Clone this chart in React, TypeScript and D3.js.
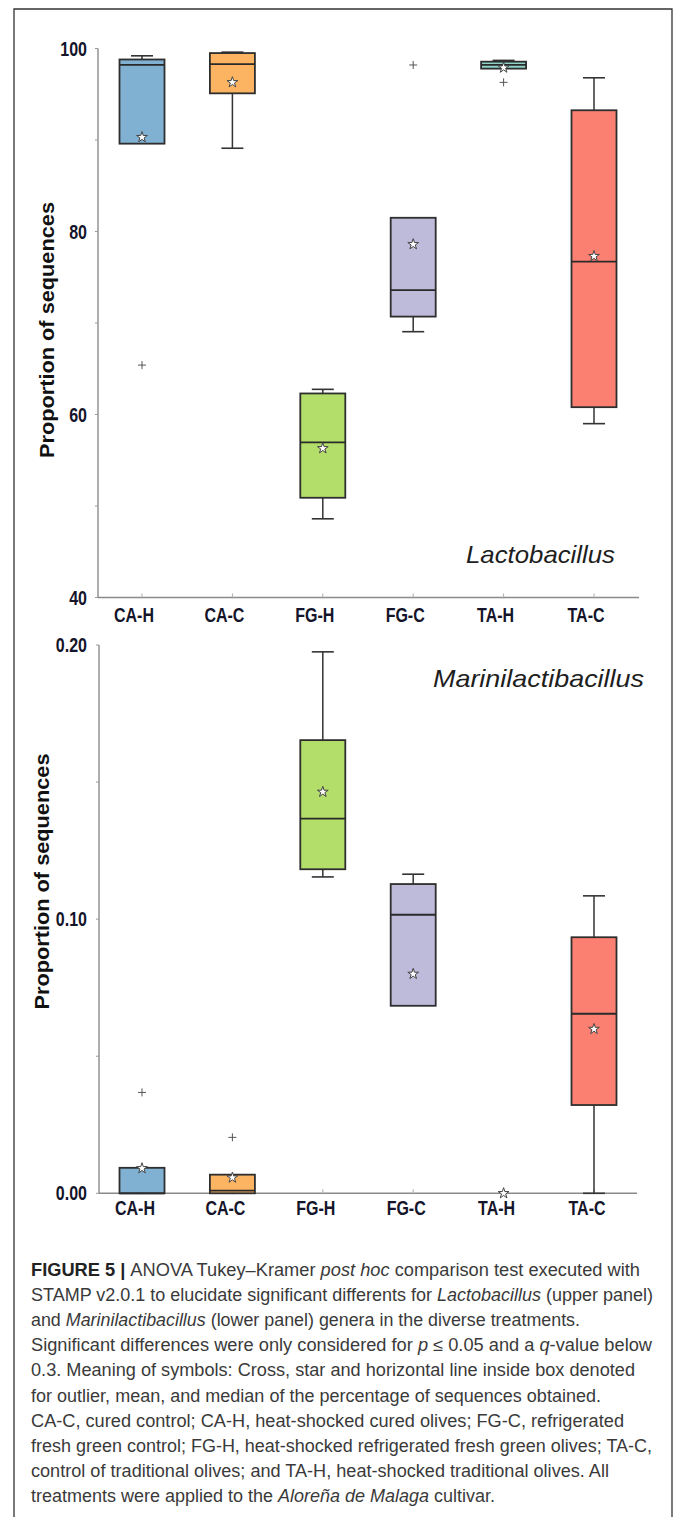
import React from "react";
import * as d3 from "d3";

const categories = ["CA-H", "CA-C", "FG-H", "FG-C", "TA-H", "TA-C"];
const boxColors = ["#80B1D3", "#FDB462", "#B3DE69", "#BEBADA", "#8DD3C7", "#FB8072"];

// Lactobacillus (upper panel), percentage of sequences
const lactoWhiskerLow = [89.6, 89.1, 48.6, 69.05, 97.8, 59.0];
const lactoQ1 = [89.6, 95.1, 50.9, 70.7, 97.8, 60.8];
const lactoMedian = [98.2, 98.3, 56.96, 73.6, 98.2, 76.7];
const lactoQ3 = [98.8, 99.5, 62.3, 81.5, 98.56, 93.25];
const lactoWhiskerHigh = [99.2, 99.6, 62.75, 81.5, 98.7, 96.8];
const lactoMean = [90.3, 96.3, 56.3, 78.6, 97.9, 77.3];
const lactoOutliers = [[65.4], [], [], [98.2], [96.3], []];
const lactoTicks = [40, 50, 60, 70, 80, 90, 100];
const lactoTickLabels = ["40", "", "60", "", "80", "", "100"];

// Marinilactibacillus (lower panel)
const mariWhiskerLow = [0, 0, 0.1154, 0.0684, 0, 0];
const mariQ1 = [0, 0, 0.1182, 0.0684, 0, 0.0322];
const mariMedian = [0, 0.001, 0.1367, 0.1016, 0, 0.0655];
const mariQ3 = [0.0093, 0.0068, 0.1653, 0.1128, 0, 0.0934];
const mariWhiskerHigh = [0.0093, 0.0068, 0.1975, 0.1164, 0, 0.1085];
const mariMean = [0.0091, 0.0057, 0.1464, 0.08, 0, 0.0599];
const mariOutliers = [[0.0368], [0.0204], [], [], [], []];
const mariTicks = [0, 0.05, 0.1, 0.15, 0.2];
const mariTickLabels = ["0.00", "", "0.10", "", "0.20"];

type Seg = [string, string?];
const captionLines: { segs: Seg[]; w: number }[] = [
  { segs: [["FIGURE 5 | ", "b"], ["ANOVA Tukey–Kramer "], ["post hoc", "i"], [" comparison test executed with"]], w: 609 },
  { segs: [["STAMP v2.0.1 to elucidate significant differents for "], ["Lactobacillus", "i"], [" (upper panel)"]], w: 622 },
  { segs: [["and "], ["Marinilactibacillus", "i"], [" (lower panel) genera in the diverse treatments."]], w: 549 },
  { segs: [["Significant differences were only considered for "], ["p", "i"], [" ≤ 0.05 and a "], ["q", "i"], ["-value below"]], w: 621 },
  { segs: [["0.3. Meaning of symbols: Cross, star and horizontal line inside box denoted"]], w: 604 },
  { segs: [["for outlier, mean, and median of the percentage of sequences obtained."]], w: 570 },
  { segs: [["CA-C, cured control; CA-H, heat-shocked cured olives; FG-C, refrigerated"]], w: 593 },
  { segs: [["fresh green control; FG-H, heat-shocked refrigerated fresh green olives; TA-C,"]], w: 621 },
  { segs: [["control of traditional olives; and TA-H, heat-shocked traditional olives. All"]], w: 578 },
  { segs: [["treatments were applied to the "], ["Aloreña de Malaga", "i"], [" cultivar."]], w: 464 },
];

const W = 674;
const H = 1517;
const BOX_W = 45;
const CAP_W = 22;
const NARROW = 0.8;

const x = d3.scalePoint<string>().domain(categories).range([142, 594]);
const starPath = d3.symbol().type(d3.symbolStar).size(36)() as string;
const sans = "'Liberation Sans', Arial, sans-serif";

function NarrowText(props: { x: number; y: number; anchor: string; size: number; children: string }) {
  return (
    <g transform={`translate(${props.x},${props.y}) scale(${NARROW},1)`}>
      <text x={0} y={0} textAnchor={props.anchor} fontFamily={sans} fontWeight="bold" fontSize={props.size} fill="#14142a">
        {props.children}
      </text>
    </g>
  );
}

function Panel(props: {
  y: d3.ScaleLinear<number, number>;
  wl: number[]; q1: number[]; med: number[]; q3: number[]; wh: number[]; mean: number[]; out: number[][];
  ticks: number[]; tickLabels: string[];
  axisX0: number; axisX1: number; labelBaseline: number; labelDx: number;
  genus: string; genusX: number; genusY: number; genusW: number;
  titleX: number; titleY: number;
}) {
  const { y } = props;
  const y0 = y.range()[0];
  const y1 = y.range()[1];
  return (
    <g>
      <line x1={props.axisX0} x2={props.axisX0} y1={y1} y2={y0} stroke="#8a8a8a" strokeWidth={1.4} />
      {props.ticks.map((t, i) => (
        <g key={"t" + i}>
          <line x1={props.axisX0 - 3} x2={props.axisX0} y1={y(t)} y2={y(t)} stroke="#9a9a9a" strokeWidth={1} />
          {props.tickLabels[i] && (
            <NarrowText x={87} y={y(t) + 7} anchor="end" size={20}>
              {props.tickLabels[i]}
            </NarrowText>
          )}
        </g>
      ))}
      <line x1={props.axisX0} x2={props.axisX1} y1={y0} y2={y0} stroke="#8a8a8a" strokeWidth={1.4} />
      {categories.map((c) => (
        <line key={"xt" + c} x1={x(c)} x2={x(c)} y1={y0 - 4} y2={y0 + 1} stroke="#aaa" strokeWidth={1} />
      ))}
      {categories.map((c) => (
        <NarrowText key={"xl" + c} x={(x(c) as number) + props.labelDx} y={props.labelBaseline} anchor="middle" size={20}>
          {c}
        </NarrowText>
      ))}
      {categories.map((c, i) => {
        const cx = x(c) as number;
        const top = y(props.q3[i]);
        const bot = y(props.q1[i]);
        const hasBox = bot - top > 0.5;
        return (
          <g key={"b" + c}>
            <line x1={cx} x2={cx} y1={y(props.wh[i])} y2={top} stroke="#333" strokeWidth={1.5} />
            <line x1={cx} x2={cx} y1={bot} y2={y(props.wl[i])} stroke="#333" strokeWidth={1.5} />
            {props.wh[i] > props.q3[i] && (
              <line x1={cx - CAP_W / 2} x2={cx + CAP_W / 2} y1={y(props.wh[i])} y2={y(props.wh[i])} stroke="#333" strokeWidth={1.6} />
            )}
            {props.wl[i] < props.q1[i] && (
              <line x1={cx - CAP_W / 2} x2={cx + CAP_W / 2} y1={y(props.wl[i])} y2={y(props.wl[i])} stroke="#333" strokeWidth={1.6} />
            )}
            {hasBox && (
              <rect x={cx - BOX_W / 2} y={top} width={BOX_W} height={bot - top} fill={boxColors[i]} stroke="#2e2e2e" strokeWidth={1.8} />
            )}
            {hasBox && (
              <line x1={cx - BOX_W / 2} x2={cx + BOX_W / 2} y1={y(props.med[i])} y2={y(props.med[i])} stroke="#2a2a2a" strokeWidth={1.8} />
            )}
            <path d={starPath} transform={`translate(${cx},${y(props.mean[i])})`} fill="#fff" stroke="#444" strokeWidth={1} />
            {props.out[i].map((o, k) => (
              <g key={"o" + k} transform={`translate(${cx},${y(o)})`} stroke="#555" strokeWidth={1}>
                <line x1={-4} x2={4} y1={0} y2={0} />
                <line x1={0} x2={0} y1={-4} y2={4} />
              </g>
            ))}
          </g>
        );
      })}
      <text x={props.genusX} y={props.genusY} fontFamily={sans} fontStyle="italic" fontSize={24} fill="#1e1e1e" textLength={props.genusW} lengthAdjust="spacingAndGlyphs">
        {props.genus}
      </text>
      <text transform={`translate(${props.titleX},${props.titleY}) rotate(-90)`} textAnchor="middle" fontFamily={sans} fontWeight="bold" fontSize={21} fill="#111" textLength={256} lengthAdjust="spacingAndGlyphs">
        Proportion of sequences
      </text>
    </g>
  );
}

export default function App() {
  const yTop = d3.scaleLinear().domain([40, 100]).range([597.5, 48.5]);
  const yBot = d3.scaleLinear().domain([0, 0.2]).range([1193.3, 645]);
  return (
    <svg width={W} height={H} viewBox={`0 0 ${W} ${H}`} style={{ position: "absolute", left: 0, top: 0, display: "block", background: "#fff" }}>
      <rect x={0} y={0} width={W} height={H} fill="#fff" />
      <path d={`M14,${H + 2} V9 H672 V${H + 2}`} fill="none" stroke="#333" strokeWidth={1.3} />
      <Panel
        y={yTop}
        wl={lactoWhiskerLow} q1={lactoQ1} med={lactoMedian} q3={lactoQ3} wh={lactoWhiskerHigh} mean={lactoMean} out={lactoOutliers}
        ticks={lactoTicks} tickLabels={lactoTickLabels}
        axisX0={98} axisX1={639} labelBaseline={622} labelDx={-8}
        genus="Lactobacillus" genusX={466} genusY={563} genusW={149}
        titleX={53.5} titleY={330}
      />
      <Panel
        y={yBot}
        wl={mariWhiskerLow} q1={mariQ1} med={mariMedian} q3={mariQ3} wh={mariWhiskerHigh} mean={mariMean} out={mariOutliers}
        ticks={mariTicks} tickLabels={mariTickLabels}
        axisX0={99} axisX1={637} labelBaseline={1215} labelDx={-7}
        genus="Marinilactibacillus" genusX={433} genusY={687} genusW={211}
        titleX={49} titleY={881.5}
      />
      {captionLines.map((ln, i) => (
        <text key={"c" + i} x={31} y={1276 + i * 25.1} fontFamily={sans} fontSize={17.5} fill="#3a3a3a" textLength={ln.w} lengthAdjust="spacingAndGlyphs">
          {ln.segs.map((s, k) => (
            <tspan key={k} fontWeight={s[1] === "b" ? "bold" : "normal"} fontStyle={s[1] === "i" ? "italic" : "normal"} fill={s[1] === "b" ? "#222" : undefined}>
              {s[0]}
            </tspan>
          ))}
        </text>
      ))}
    </svg>
  );
}
